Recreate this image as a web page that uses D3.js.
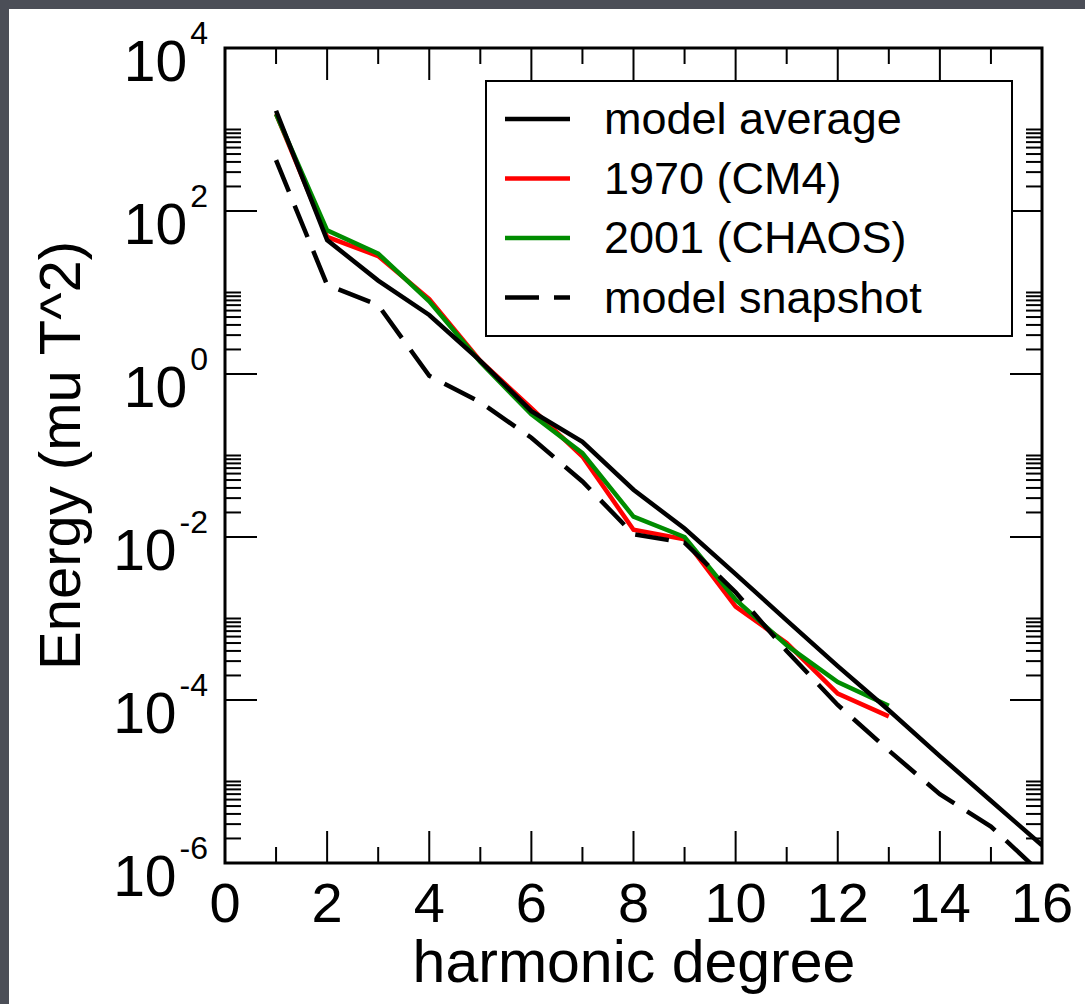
<!DOCTYPE html>
<html>
<head>
<meta charset="utf-8">
<script src="https://cdn.jsdelivr.net/npm/d3@7"></script>
<style>
  html, body { margin: 0; padding: 0; background: #4b4e57; }
  svg { display: block; }
  text { font-family: "Liberation Sans", Arial, Helvetica, sans-serif; fill: #000; }
</style>
</head>
<body>
<svg id="chart" width="1085" height="1004"></svg>
<script>
// ---- data ----
const degrees = [1, 2, 3, 4, 5, 6, 7, 8, 9, 10, 11, 12, 13, 14, 15, 16];
const modelAverage = [1700, 44, 14, 5.3, 1.45, 0.35, 0.147, 0.038, 0.0127, 0.0035, 0.00095, 2.6e-4, 7.5e-5, 2.05e-5, 5.8e-6, 1.65e-6];
const cm4Degrees = [1, 2, 3, 4, 5, 6, 7, 8, 9, 10, 11, 12, 13];
const cm4_1970 = [1550, 48, 28, 8.3, 1.45, 0.38, 0.097, 0.0123, 0.0094, 0.0014, 0.0005, 1.2e-4, 6.3e-5];
const chaosDegrees = [1, 2, 3, 4, 5, 6, 7, 8, 9, 10, 11, 12, 13];
const chaos_2001 = [1550, 58, 30, 7.8, 1.4, 0.32, 0.107, 0.0178, 0.0100, 0.0017, 0.00047, 1.66e-4, 8.5e-5];
const modelSnapshot = [420, 12.4, 7.0, 0.95, 0.45, 0.165, 0.048, 0.0108, 0.0085, 0.0021, 0.0004, 8.7e-5, 2.4e-5, 7.0e-6, 2.8e-6, 7.3e-7];

const xTickLabels = [0, 2, 4, 6, 8, 10, 12, 14, 16];
const yTickExponents = [4, 2, 0, -2, -4, -6];
const legendLabels = ["model average", "1970 (CM4)", "2001 (CHAOS)", "model snapshot"];
const xTitle = "harmonic degree";
const yTitle = "Energy (mu T^2)";

// ---- layout ----
const svg = d3.select("#chart");
const W = 1085, H = 1004;
const L = 225, R = 1042, T = 48, B = 863;

svg.append("rect").attr("x", 0).attr("y", 0).attr("width", W).attr("height", H).attr("fill", "#4b4e57");
svg.append("rect").attr("x", 9).attr("y", 9).attr("width", W - 9).attr("height", H - 9).attr("fill", "#ffffff");

const x = d3.scaleLinear().domain([0, 16]).range([L, R]);
const y = d3.scaleLog().domain([1e-6, 1e4]).range([B, T]);

svg.append("defs").append("clipPath").attr("id", "plotclip")
  .append("rect").attr("x", L).attr("y", T).attr("width", R - L).attr("height", B - T);

// ---- ticks ----
const tickG = svg.append("g").attr("stroke", "#000").attr("stroke-width", 2);
const majorLen = 32, minorLen = 16;
for (let v = 1; v < 16; v++) {
  const len = v % 2 === 0 ? majorLen : minorLen;
  const px = x(v);
  tickG.append("line").attr("x1", px).attr("x2", px).attr("y1", B).attr("y2", B - len);
  tickG.append("line").attr("x1", px).attr("x2", px).attr("y1", T).attr("y2", T + len);
}
const yMajor = yTickExponents.map(e => Math.pow(10, e));
const yMinor = [];
yTickExponents.forEach(e => {
  if (e >= 4) return;
  for (let m = 2; m <= 10; m++) yMinor.push(m * Math.pow(10, e));
});
yMajor.forEach(v => {
  const py = y(v);
  if (Math.abs(py - T) < 1 || Math.abs(py - B) < 1) return;
  tickG.append("line").attr("x1", L).attr("x2", L + majorLen).attr("y1", py).attr("y2", py);
  tickG.append("line").attr("x1", R).attr("x2", R - majorLen).attr("y1", py).attr("y2", py);
});
yMinor.forEach(v => {
  const py = y(v);
  tickG.append("line").attr("x1", L).attr("x2", L + minorLen).attr("y1", py).attr("y2", py);
  tickG.append("line").attr("x1", R).attr("x2", R - minorLen).attr("y1", py).attr("y2", py);
});

// ---- lines ----
const plotG = svg.append("g").attr("clip-path", "url(#plotclip)");
function drawLine(xs, ys, color, dash) {
  const pts = xs.map((d, i) => [d, ys[i]]);
  const gen = d3.line().x(d => x(d[0])).y(d => y(d[1]));
  plotG.append("path").datum(pts).attr("d", gen)
    .attr("fill", "none").attr("stroke", color).attr("stroke-width", 4.5)
    .attr("stroke-linejoin", "miter").attr("stroke-dasharray", dash || null);
}
drawLine(cm4Degrees, cm4_1970, "#ff0000");
drawLine(chaosDegrees, chaos_2001, "#008c00");
drawLine(degrees, modelAverage, "#000000");
drawLine(degrees, modelSnapshot, "#000000", "34,15");

// ---- frame ----
svg.append("rect").attr("x", L).attr("y", T).attr("width", R - L).attr("height", B - T)
  .attr("fill", "none").attr("stroke", "#000").attr("stroke-width", 3);

// ---- tick labels ----
xTickLabels.forEach(v => {
  svg.append("text").attr("x", x(v)).attr("y", B + 59).attr("text-anchor", "middle")
    .attr("font-size", 56).text(v);
});
yTickExponents.forEach(e => {
  const py = y(Math.pow(10, e));
  const t = svg.append("text").attr("x", 208).attr("y", py + 33).attr("text-anchor", "end");
  t.append("tspan").attr("font-size", 57).text("10");
  t.append("tspan").attr("font-size", 32).attr("dx", 3).attr("dy", -37).text(e);
});

// ---- axis titles ----
svg.append("text").attr("x", 634).attr("y", 982).attr("text-anchor", "middle")
  .attr("font-size", 59).text(xTitle);
svg.append("text").attr("transform", "translate(80," + ((T + B) / 2) + ") rotate(-90)")
  .attr("text-anchor", "middle").attr("font-size", 58).text(yTitle);

// ---- legend ----
const lg = svg.append("g");
lg.append("rect").attr("x", 486).attr("y", 81).attr("width", 526).attr("height", 255)
  .attr("fill", "#fff").attr("stroke", "#000").attr("stroke-width", 2);
const legendColors = ["#000000", "#ff0000", "#008c00", "#000000"];
const legendDash = [null, null, null, "34,15"];
const legendY = [119, 178.5, 238, 297.5];
legendLabels.forEach((lab, i) => {
  lg.append("line").attr("x1", 505).attr("x2", 570).attr("y1", legendY[i]).attr("y2", legendY[i])
    .attr("stroke", legendColors[i]).attr("stroke-width", 4.5)
    .attr("stroke-dasharray", legendDash[i]);
  lg.append("text").attr("x", 604).attr("y", legendY[i] + 15).attr("font-size", 45).text(lab);
});
</script>
</body>
</html>
